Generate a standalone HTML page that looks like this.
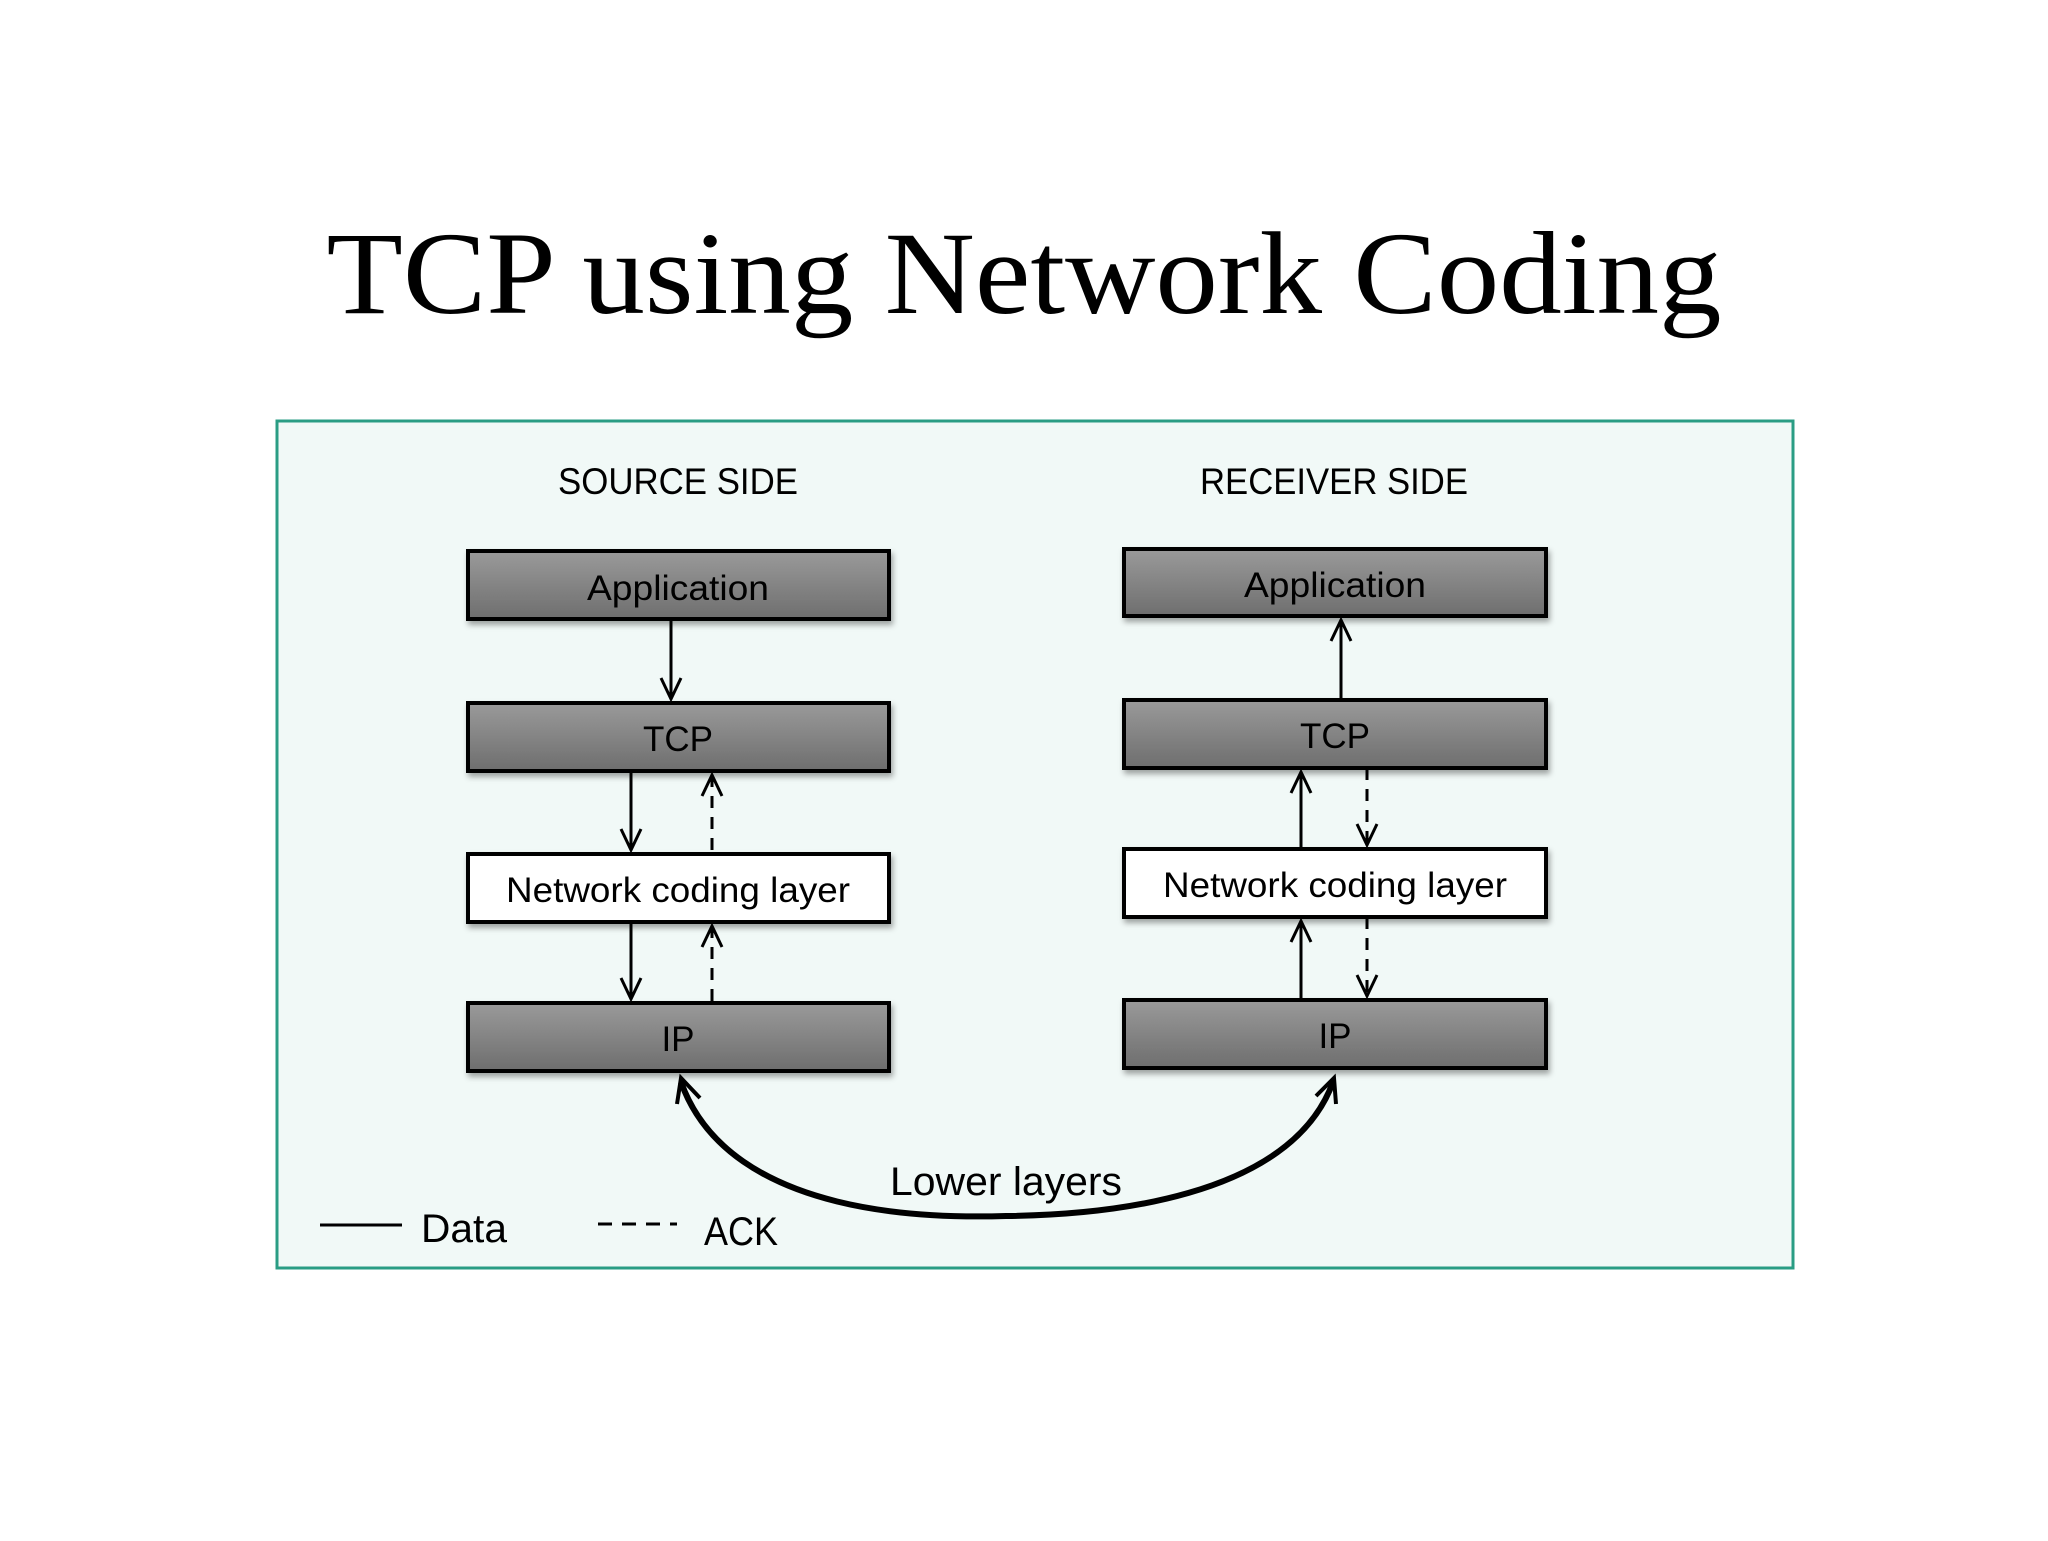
<!DOCTYPE html>
<html><head><style>html,body{margin:0;padding:0;background:#fff}</style></head><body>
<svg width="2048" height="1536" viewBox="0 0 2048 1536" xmlns="http://www.w3.org/2000/svg" font-family="Liberation Sans, sans-serif">
<defs>
<linearGradient id="g" x1="0" y1="0" x2="0" y2="1"><stop offset="0" stop-color="#9a9a9a"/><stop offset="1" stop-color="#6e6e6e"/></linearGradient>
<filter id="s" x="-5%" y="-20%" width="110%" height="150%"><feDropShadow dx="2" dy="4" stdDeviation="3" flood-opacity="0.35"/></filter>
</defs>
<text x="1024" y="313" font-family="Liberation Serif, serif" font-size="118" text-anchor="middle" textLength="1395" lengthAdjust="spacingAndGlyphs">TCP using Network Coding</text>
<rect x="277" y="421" width="1516" height="847" fill="#f1f9f7" stroke="#2a9d84" stroke-width="3"/>
<g font-size="37" text-anchor="middle">
<text x="678" y="494" textLength="240" lengthAdjust="spacingAndGlyphs">SOURCE SIDE</text>
<text x="1334" y="494" textLength="268" lengthAdjust="spacingAndGlyphs">RECEIVER SIDE</text>
</g>
<g stroke="#000" stroke-width="4" filter="url(#s)">
<rect x="468" y="551" width="421" height="68" fill="url(#g)"/>
<rect x="468" y="703" width="421" height="68" fill="url(#g)"/>
<rect x="468" y="854" width="421" height="68" fill="#fff"/>
<rect x="468" y="1003" width="421" height="68" fill="url(#g)"/>
<rect x="1124" y="549" width="422" height="67" fill="url(#g)"/>
<rect x="1124" y="700" width="422" height="68" fill="url(#g)"/>
<rect x="1124" y="849" width="422" height="68" fill="#fff"/>
<rect x="1124" y="1000" width="422" height="68" fill="url(#g)"/>
</g>
<g font-size="35" text-anchor="middle">
<text x="678" y="600" textLength="182" lengthAdjust="spacingAndGlyphs">Application</text>
<text x="678" y="751">TCP</text>
<text x="678" y="902" textLength="344" lengthAdjust="spacingAndGlyphs">Network coding layer</text>
<text x="678" y="1051">IP</text>
<text x="1335" y="597" textLength="182" lengthAdjust="spacingAndGlyphs">Application</text>
<text x="1335" y="748">TCP</text>
<text x="1335" y="897" textLength="344" lengthAdjust="spacingAndGlyphs">Network coding layer</text>
<text x="1335" y="1048">IP</text>
</g>
<g stroke="#000" stroke-width="3" fill="none">
<!-- left data -->
<line x1="671" y1="619" x2="671" y2="699"/><polyline points="661,678 671,699 681,678"/>
<line x1="631" y1="771" x2="631" y2="850"/><polyline points="621,829 631,850 641,829"/>
<line x1="631" y1="922" x2="631" y2="999"/><polyline points="621,978 631,999 641,978"/>
<!-- left ack -->
<line x1="712" y1="775" x2="712" y2="854" stroke-dasharray="12,9"/><polyline points="702,796 712,775 722,796"/>
<line x1="712" y1="926" x2="712" y2="1003" stroke-dasharray="12,9"/><polyline points="702,947 712,926 722,947"/>
<!-- right data -->
<line x1="1341" y1="620" x2="1341" y2="700"/><polyline points="1331,641 1341,620 1351,641"/>
<line x1="1301" y1="772" x2="1301" y2="849"/><polyline points="1291,793 1301,772 1311,793"/>
<line x1="1301" y1="921" x2="1301" y2="1000"/><polyline points="1291,942 1301,921 1311,942"/>
<!-- right ack -->
<line x1="1367" y1="768" x2="1367" y2="845" stroke-dasharray="12,9"/><polyline points="1357,824 1367,845 1377,824"/>
<line x1="1367" y1="917" x2="1367" y2="996" stroke-dasharray="12,9"/><polyline points="1357,975 1367,996 1377,975"/>
<!-- curve -->
<path d="M681,1082 C730,1220 940,1218 1006,1216 C1100,1215 1290,1200 1333,1082" stroke-width="6"/>
<polyline points="677,1104 681,1078 700,1098" stroke-width="4"/>
<polyline points="1316,1096 1334,1078 1336,1104" stroke-width="4"/>
<!-- legend -->
<line x1="320" y1="1225" x2="402" y2="1225"/>
<line x1="598" y1="1224" x2="677" y2="1224" stroke-dasharray="14,10"/>
</g>
<g font-size="40">
<text x="1006" y="1195" text-anchor="middle" textLength="232" lengthAdjust="spacingAndGlyphs">Lower layers</text>
<text x="421" y="1242" textLength="86" lengthAdjust="spacingAndGlyphs">Data</text>
<text x="704" y="1245" textLength="74" lengthAdjust="spacingAndGlyphs">ACK</text>
</g>
</svg>
</body></html>
